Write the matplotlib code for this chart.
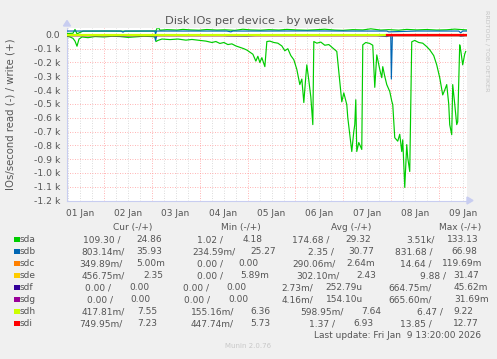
import numpy as np
import pandas as pd
import matplotlib
matplotlib.use("Agg")
import matplotlib.pyplot as plt
from matplotlib.patches import Rectangle, Polygon

W, H = 497, 359
TXT = "#555555"
AXIS = "#c8cdf0"

# time window of the week graph
start = pd.Timestamp("2026-01-01 05:40")
end = pd.Timestamp("2026-01-09 13:40")
day_labels = ["01 Jan", "02 Jan", "03 Jan", "04 Jan", "05 Jan", "06 Jan", "07 Jan", "08 Jan", "09 Jan"]

# series: hours since start / IOs per second (read is drawn negative)
sda_read_h = [0, 1.5, 3, 4, 5, 6, 7.5, 10.5, 14, 18.5, 22.5, 26.5, 30.5, 34.5, 38.5, 42.5, 44,
              44.5, 45.5, 47.5, 51.5, 55.5, 59.5, 62.5, 66.5, 69.5, 72.5, 74.5, 76.5, 78.5, 80.5,
              82.5, 84.5, 86.5, 88.5, 90, 91.5, 93, 94.5, 95.5, 96.5, 97.5, 99, 100, 101.5, 103.5,
              105.5, 107.5, 109, 110.5, 112, 113.5, 115, 116.5, 117.5, 118.5, 119.5, 120, 121, 122,
              123, 123.5, 125, 127, 129, 131, 133, 135, 136.5, 137.5, 138.5, 140, 140.5, 141.5,
              142.5, 143.5, 144, 144.5, 145, 146, 147.5, 148, 149.5, 151.5, 153, 154, 155, 156.5,
              157.5, 158, 159, 160, 161.5, 162.5, 163, 164, 165.5, 166.5, 167.5, 168, 169, 170,
              170.5, 171.5, 172.5, 174, 176, 178, 180, 181.5, 183.5, 185, 186.5, 188, 189, 190,
              191, 191.5, 192.5, 193, 194, 195, 195.5, 196.5, 197, 198, 199, 199.5]
sda_read = [-10, -15, -25, -45, -82, -30, -15, -20, -12, -15, -10, -12, -18, -14, -10, -12, -15,
            -48, -40, -30, -34, -30, -38, -33, -40, -45, -55, -48, -62, -55, -70,
            -65, -80, -90, -100, -110, -125, -140, -190, -155, -200, -165, -230, -48, -45, -55,
            -60, -80, -115, -100, -150, -180, -250, -360, -320, -490, -300, -217, -330, -450,
            -650, -48, -60, -52, -75, -70, -95, -120, -340, -485, -420, -505, -600, -723,
            -845, -700, -650, -470, -845, -780, -830, -72, -55, -62, -75, -380, -145, -250,
            -310, -230, -300, -360, -410, -480, -505, -745, -770, -720, -845, -760, -1105, -795,
            -890, -990, -50, -40, -55, -60, -85, -108, -150, -217, -310, -435, -400, -360,
            -500, -650, -723, -360, -500, -650, -630, -72, -110, -217, -140, -120]

sda_write_h = [0, 3, 4, 5, 8, 20, 30, 40, 44, 44.5, 45.5, 46.5, 50, 55, 58, 62, 66, 70, 75, 79,
               84, 88, 92, 97, 101, 106, 110, 115, 120, 124, 129, 134, 138, 143, 148, 152, 157,
               161, 166, 170, 175, 180, 185, 190, 194, 198, 200]
sda_write = [10, 12, 40, 8, 27, 28, 27, 28, 28, 30, 60, 34, 38, 35, 40, 36, 34, 39, 35, 37,
             33, 41, 36, 34, 38, 35, 40, 36, 34, 37, 41, 35, 33, 38, 36, 44, 35,
             38, 34, 40, 36, 39, 35, 37, 42, 38, 36]

sdb_read_h = [0, 10, 20, 28, 35, 44, 44.3, 45, 60, 78, 80, 90, 95, 100, 120, 140, 155, 160, 162,
              162.3, 162.8, 170, 185, 196, 197, 200]
sdb_read = [-2, -3, -2, -8, -2, -2, -40, -2, -3, -2, -6, -8, -3, -2, -2, -3, -4, -12, -3,
            -320, -4, -2, -3, -2, -10, -2]

sdb_write_h = [0, 12, 27, 28, 29, 44, 44.3, 44.8, 60, 80, 82, 83, 100, 120, 140, 160, 161, 175,
               190, 196, 197, 198, 200]
sdb_write = [28, 28, 28, 20, 28, 28, 5, 28, 28, 28, 22, 28, 28, 29, 28, 28, 22, 28,
             28, 28, 15, 28, 28]

flat_h = [0, 200]
sdc_read, sdc_write = [-0.3, -0.3], [0.0, 0.0]
sde_read, sde_write = [-0.3, -0.3], [2.4, 2.4]
sdf_read, sdf_write = [0.0, 0.0], [0.0, 0.0]
sdg_read, sdg_write = [0.0, 0.0], [0.0, 0.0]
sdh_read, sdh_write = [-0.6, -0.6], [7.6, 7.6]
sdi_h = [159.5, 200]
sdi_read, sdi_write = [-1.4, -1.4], [7.0, 7.0]

# legend table
devices = ["sda", "sdb", "sdc", "sde", "sdf", "sdg", "sdh", "sdi"]
colors = ["#00cc00", "#0066b3", "#ff8000", "#ffcc00", "#330099", "#990099", "#ccff00", "#ff0000"]
cur_read = ["109.30 /", "803.14m/", "349.89m/", "456.75m/", "0.00 /", "0.00 /", "417.81m/", "749.95m/"]
cur_write = ["24.86", "35.93", "5.00m", "2.35", "0.00", "0.00", "7.55", "7.23"]
min_read = ["1.02 /", "234.59m/", "0.00 /", "0.00 /", "0.00 /", "0.00 /", "155.16m/", "447.74m/"]
min_write = ["4.18", "25.27", "0.00", "5.89m", "0.00", "0.00", "6.36", "5.73"]
avg_read = ["174.68 /", "2.35 /", "290.06m/", "302.10m/", "2.73m/", "4.16m/", "598.95m/", "1.37 /"]
avg_write = ["29.32", "30.77", "2.64m", "2.43", "252.79u", "154.10u", "7.64", "6.93"]
max_read = ["3.51k/", "831.68 /", "14.64 /", "9.88 /", "664.75m/", "665.60m/", "6.47 /", "13.85 /"]
max_write = ["133.13", "66.98", "119.69m", "31.47", "45.62m", "31.69m", "9.22", "12.77"]
headers = ["Cur (-/+)", "Min (-/+)", "Avg (-/+)", "Max (-/+)"]


def at(hours):
    return start + pd.to_timedelta(np.asarray(hours, dtype=float), unit="h")


def fx(px):
    return px / W


def fy(py):
    return 1 - py / H


plt.rcParams["font.family"] = ["DejaVu Sans"]
fig = plt.figure(figsize=(W / 100, H / 100), dpi=100, facecolor="#f0f0f0")
ax = fig.add_axes([fx(67), fy(200.5), (466.7 - 67) / W, (200.5 - 28) / H])
ax.set_facecolor("white")

# grid
for d in pd.date_range("2026-01-01 06:00", "2026-01-09 12:00", freq="6h"):
    major = d.hour == 0
    ax.axvline(d, color="#ff9a9a" if major else "#cfcfcf", lw=0.6,
               ls=(0, (1, 2)), zorder=1)
for v in range(-1100, 1, 100):
    ax.axhline(v, color="#ff9a9a", lw=0.6, ls=(0, (1, 2)), zorder=1)

lw = 0.85
ax.plot(at(sda_read_h), sda_read, color=colors[0], lw=lw, zorder=3)
ax.plot(at(sda_write_h), sda_write, color=colors[0], lw=lw, zorder=3)
ax.plot(at(sdb_read_h), sdb_read, color=colors[1], lw=lw, zorder=3)
ax.plot(at(sdb_write_h), sdb_write, color=colors[1], lw=lw, zorder=3)
ax.plot(at(flat_h), sdc_read, color=colors[2], lw=lw, zorder=3)
ax.plot(at(flat_h), sdc_write, color=colors[2], lw=lw, zorder=3)
ax.plot(at(flat_h), sde_read, color=colors[3], lw=lw, zorder=3)
ax.plot(at(flat_h), sde_write, color=colors[3], lw=lw, zorder=3)
ax.plot(at(flat_h), sdf_read, color=colors[4], lw=lw, zorder=3)
ax.plot(at(flat_h), sdf_write, color=colors[4], lw=lw, zorder=3)
ax.plot(at(flat_h), sdg_read, color=colors[5], lw=lw, zorder=3)
ax.plot(at(flat_h), sdg_write, color=colors[5], lw=lw, zorder=3)
ax.plot(at(flat_h), sdh_read, color=colors[6], lw=lw, zorder=3)
ax.plot(at(flat_h), sdh_write, color=colors[6], lw=lw, zorder=3)
ax.plot(at(sdi_h), sdi_read, color=colors[7], lw=lw, zorder=3)
ax.plot(at(sdi_h), sdi_write, color=colors[7], lw=lw, zorder=3)

ax.set_xlim(start, end)
ax.set_ylim(-1200, 50)

yt = list(range(-1200, 1, 100))
ax.set_yticks(yt)
ax.set_yticklabels(["0.0" if v == 0 else "%.1f k" % (v / 1000) for v in yt])
ax.set_xticks(pd.date_range("2026-01-01 12:00", periods=len(day_labels), freq="D"))
ax.set_xticklabels(day_labels)
ax.tick_params(axis="y", length=0, pad=5, labelsize=6.7, labelcolor=TXT)
ax.tick_params(axis="x", length=0, pad=6, labelsize=6.5, labelcolor=TXT)

for s in ["top", "right"]:
    ax.spines[s].set_visible(False)
for s in ["left", "bottom"]:
    ax.spines[s].set_color(AXIS)
    ax.spines[s].set_linewidth(0.8)

# axis arrows
fig.add_artist(Polygon([(fx(63.5), fy(26)), (fx(70.5), fy(26)), (fx(67), fy(20.5))],
                       closed=True, transform=fig.transFigure, color=AXIS))
fig.add_artist(Polygon([(fx(467), fy(197)), (fx(467), fy(204)), (fx(473), fy(200.5))],
                       closed=True, transform=fig.transFigure, color=AXIS))

fig.text(fx(249), fy(21), "Disk IOs per device - by week", ha="center", va="center",
         fontsize=8.2, color=TXT)
fig.text(fx(10.5), fy(114), "IOs/second read (-) / write (+)", rotation=90,
         ha="center", va="center", fontsize=7.3, color=TXT)
fig.text(fx(487), fy(51), "RRDTOOL / TOBI OETIKER", rotation=270, ha="center",
         va="center", fontsize=4.6, color="#c4c4c4")

# legend
header_x = [112.7, 220.7, 330.7, 439.3]
for hx, txt in zip(header_x, headers):
    fig.text(fx(hx), fy(230), txt, ha="left", va="baseline", fontsize=6.5, color=TXT)

row_y = [239, 251, 263, 275, 287, 299, 311, 323]
col_x = [
    [82.7, 136.7, 197.3, 242.3, 291.7, 345, 406.7, 447.3],
    [81, 136, 192, 250, 308.3, 348.3, 395, 451.7],
    [79, 136, 196.7, 238.3, 292.7, 346.7, 400, 441.7],
    [81.7, 143.3, 197.3, 240, 296, 356, 420, 453.3],
    [85, 129, 183.3, 226.7, 281.7, 325, 388.3, 454],
    [86.7, 130.7, 184.3, 228.3, 281.7, 326, 388.3, 454],
    [81.7, 137.7, 190.7, 250, 300, 361.7, 416.7, 453.3],
    [79, 137.7, 190.7, 250, 309.3, 353.3, 400, 453.3],
]
for i, dev in enumerate(devices):
    y = row_y[i]
    fig.add_artist(Rectangle((fx(14), fy(y + 3)), 5.5 / W, 5.5 / H,
                             transform=fig.transFigure, color=colors[i], lw=0))
    fig.text(fx(20), fy(y + 3.3), dev, ha="left", va="baseline", fontsize=6.5, color=TXT)
    cells = [cur_read[i], cur_write[i], min_read[i], min_write[i],
             avg_read[i], avg_write[i], max_read[i], max_write[i]]
    for x, txt in zip(col_x[i], cells):
        fig.text(fx(x), fy(y + 3.3), txt, ha="left", va="baseline", fontsize=6.5, color=TXT)

fig.text(fx(314), fy(338.3), "Last update: Fri Jan  9 13:20:00 2026", ha="left",
         va="baseline", fontsize=6.5, color=TXT)
fig.text(fx(248), fy(346), "Munin 2.0.76", ha="center", va="center", fontsize=5,
         color="#c8c8c8")

fig.savefig("out.png", dpi=100, facecolor=fig.get_facecolor())
